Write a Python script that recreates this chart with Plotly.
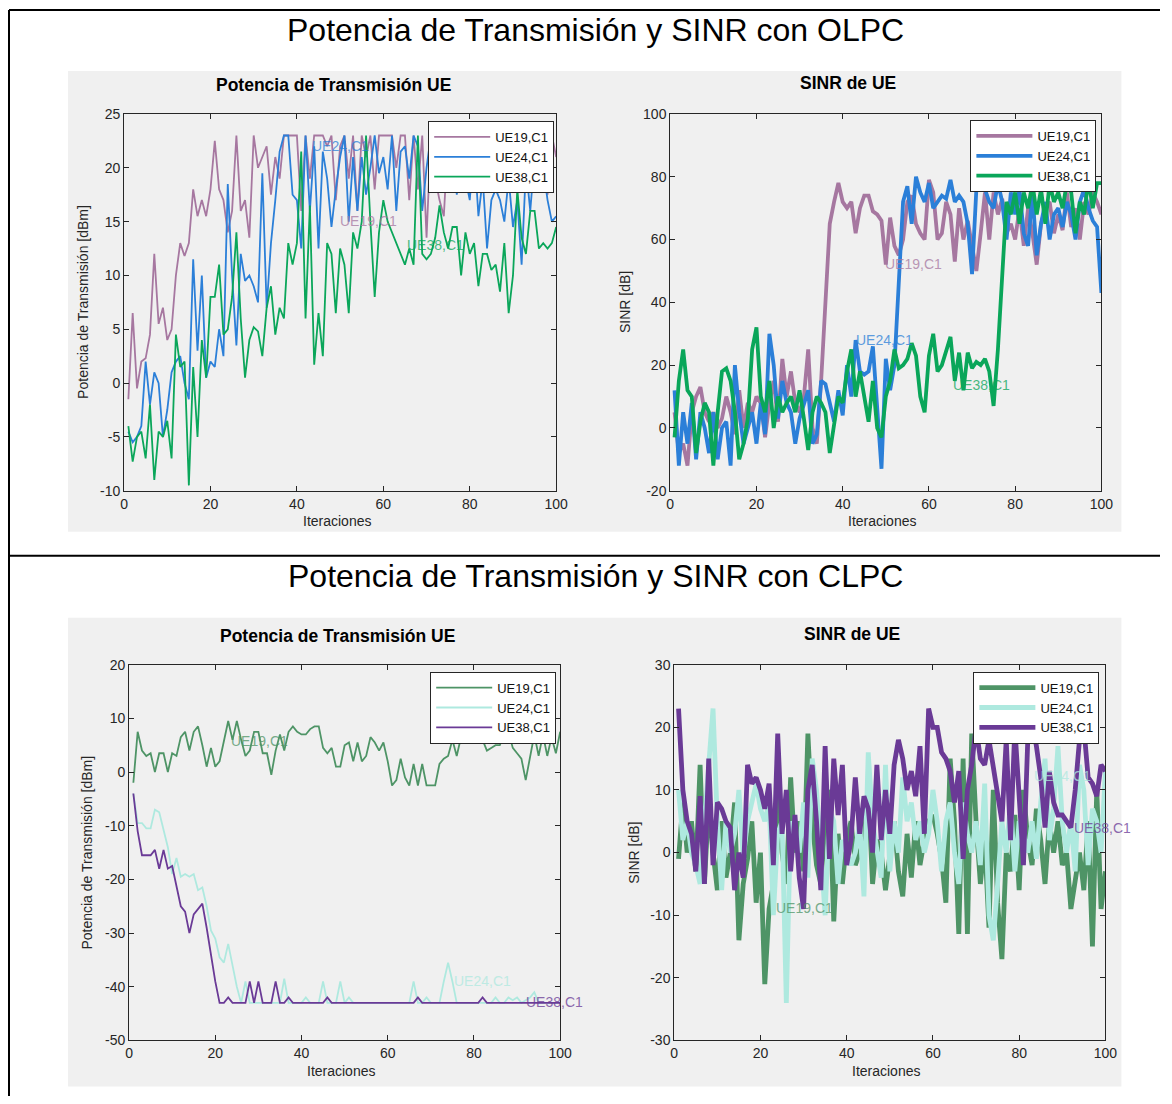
import plotly.graph_objects as go

W, H = 1172, 1104
# the photographed page comes out slightly shrunk and shifted; positions below are
# given in final picture pixels and mapped back to figure space with these factors
SC, AX, AY = 0.986, 3.0, 8.0

iters = list(range(1, 101))
names = ["UE19,C1", "UE24,C1", "UE38,C1"]

# ---------- OLPC: transmit power [dBm] ----------
olpc_pot_ue19 = [-1.5, 6.5, -0.5, 2, 2.3, 4.5, 12, 5.5, 7, 4, 5, 10, 13, 11.8, 13, 18, 15.5, 17, 15.5, 18,
                 22.5, 18, 17, 14, 16, 23, 16, 17, 13.5, 23, 20, 21, 22, 17.5, 21, 19, 23, 23, 23, 23,
                 16, 23, 19, 23, 23, 23, 22, 23, 17, 22, 23, 19, 23, 16, 23, 21, 23, 18, 23, 23,
                 23, 23, 20, 23, 23, 17, 23, 18, 23, 13.5, 23, 19, 17, 15.5, 23, 21, 23, 20, 23, 23,
                 19, 23, 18, 23, 22, 23, 20, 23, 19, 23, 23, 18, 23, 22, 23, 19, 23, 17.5, 23, 21]
olpc_pot_ue24 = [-4.5, -5.5, -5, -4, 2, -2, 1, 0, -5, -2.5, 1, 2, 2.5, 0, -1.5, 11.5, 3, 10, 0.5, 2,
                 1.5, 5, 2.5, 18.5, 10, 3.5, 12, 9.5, 10, 9, 7.5, 19.5, 7, 13, 17, 21.5, 23, 23, 17.5, 17,
                 12.5, 23, 16, 22, 12.5, 21.5, 19, 14.5, 18, 21, 23, 15, 21, 16, 21, 17.5, 20, 23, 19.5, 21,
                 18, 23, 16, 21.5, 22, 19, 23, 22, 16, 20, 23, 21, 18, 20, 18, 22, 17.5, 21, 19, 17,
                 22, 15.5, 19, 12.5, 17, 18, 17, 15, 19, 14.5, 17, 11, 20, 16, 21, 18, 20, 17, 15, 15.5]
olpc_pot_ue38 = [-4, -7.3, -5, -4.5, -7, -2, -9, -4.5, -5, -3.5, -7, 4.5, 1.5, 2, -9.5, 1.5, -5, 4, 0.5, 8,
                 8, 11, 4.5, 5, 8, 14, 6, 0.5, 4, 5.2, 4.8, 2.5, 7, 9, 4.5, 7, 6, 13, 11, 13,
                 21.5, 6, 16.5, 1.7, 6.5, 2.5, 13, 12, 6.5, 12.5, 11, 6.5, 14, 12.5, 15, 23, 15, 8, 14, 17,
                 15, 14, 13, 12, 11, 12.5, 11, 23, 12, 11.5, 12, 13.5, 16.5, 14, 12.5, 14.5, 14.5, 10, 14, 12,
                 13, 9, 12, 12, 10.5, 11, 8.5, 13, 6.5, 10, 18, 13.5, 12, 16, 16, 12.5, 13, 12.5, 13, 14.5]

# ---------- OLPC: SINR [dB] ----------
olpc_sinr_ue19 = [5, -8, -5, -12, 5, 10, 13, 5, 2, 5, 0, 3, 10, 5, -2, 12, 0, 8, 5, 10,
                  8, -3, 8, 15, 2, 22, 10, 18, 8, 5, 10, 25, 0, -5, 15, 40, 65, 72, 78, 72,
                  70, 72, 62, 70, 74, 74, 69, 68, 66, 52, 67, 58, 55, 60, 72, 74, 65, 62, 60, 79,
                  75, 60, 62, 72, 68, 53, 70, 60, 66, 58, 50, 62, 75, 60, 75, 68, 73, 62, 65, 60,
                  70, 58, 70, 62, 52, 65, 70, 72, 62, 68, 63, 75, 64, 70, 60, 72, 68, 75, 72, 68]
olpc_sinr_ue24 = [12, -12, 5, -5, 8, -10, 5, 0, -8, 5, -10, 0, 2, -12, 20, 5, -5, 0, 5, -5,
                  8, -2, 30, 20, 3, 15, 8, 5, -5, 3, 8, 12, -5, -2, 15, 14, 8, 2, 12, 4,
                  20, 10, 28, 18, 17, 18, 26, 5, -13, 22, 12, 20, 48, 72, 77, 65, 80, 75, 72, 78,
                  70, 72, 74, 73, 79, 72, 74, 72, 65, 49, 76, 80, 76, 72, 70, 78, 72, 60, 75, 68,
                  76, 62, 58, 75, 55, 65, 72, 60, 68, 70, 64, 72, 68, 60, 72, 76, 70, 66, 64, 43]
olpc_sinr_ue38 = [-3, 15, 25, 12, 10, -8, 2, 8, 5, -12, 5, 18, 19, 15, 5, -10, -5, 3, 25, 32,
                  10, 5, 15, 0, 10, 5, 8, 10, 5, 12, 3, -7, 5, 10, 8, 5, -8, 2, 10, 8,
                  18, 25, 10, 18, 10, 2, 15, 0, -3, 10, 15, 25, 19, 20, 22, 27, 23, 10, 5, 23,
                  30, 18, 20, 25, 29, 15, 24, 12, 24, 19, 21, 20, 22, 18, 7, 25, 50, 72, 68, 75,
                  65, 75, 70, 78, 68, 76, 65, 78, 72, 75, 70, 78, 75, 62, 72, 68, 79, 70, 78, 78]

# ---------- CLPC: transmit power [dBm] ----------
clpc_pot_ue19 = [-2, 7.5, 4, 3, 3.5, 0, 3.5, 3.5, 0, 3.5, 3, 6.5, 7.5, 4, 7.5, 8.5, 5, 1, 4.5, 1,
                 2, 5.5, 9.5, 6, 9.5, 6, 3, 4, 7.5, 7.5, 3.5, 3.5, -0.5, 4, 7, 4, 7.5, 8.5, 7.5, 7,
                 7, 8, 8.5, 8.5, 4.5, 3.5, 4.5, 1, 1, 5, 5.5, 2, 5.5, 2, 3, 6.5, 5.5, 4, 5.5, 2,
                 -2.5, -1.5, 2.5, -1, -2.5, 1.5, -2.5, 1.5, -2.5, -2.5, -2.5, 1.5, 2.5, 3, 6, 3, 6.5, 7, 7, 6,
                 7.5, 6, 4, 4.5, 5, 5, 7, 7.5, 4.5, 3.5, 2.5, -1.5, 3, 7, 3, 7, 3, 6.5, 3.5, 7.5]
clpc_pot_ue24 = [-4, -9.5, -9.5, -10.5, -10.5, -7, -7.5, -11, -14, -19, -16, -19.5, -19, -19.5, -19, -22, -21.5, -25, -29.5, -31,
                 -34.5, -35.5, -32, -36, -40, -43, -39, -43, -43, -43, -43, -43, -43, -43, -43, -38.5, -43, -43, -43, -43,
                 -42, -43, -43, -43, -39, -43, -43, -43, -39, -43, -42, -43, -43, -43, -43, -43, -43, -43, -43, -43,
                 -43, -43, -43, -43, -43, -39, -43, -43, -42, -43, -43, -43, -39, -35.5, -39, -43, -43, -43, -43, -43,
                 -43, -43, -43, -43, -42, -43, -43, -42, -42.5, -42, -43, -42.5, -42, -41, -43, -43, -43, -43, -43, -43]
clpc_pot_ue38 = [-4, -11, -15.5, -15.5, -15.5, -14.5, -18, -14.5, -18, -17.5, -21, -25, -26, -30, -26.5, -25.5, -24.5, -29, -34, -39,
                 -43, -43, -42, -43, -43, -43, -43, -39, -43, -39, -43, -43, -43, -39, -43, -43, -42, -43, -43, -43,
                 -43, -43, -43, -43, -43, -42, -43, -43, -43, -43, -43, -43, -43, -43, -43, -43, -43, -43, -43, -43,
                 -43, -43, -43, -43, -43, -43, -42, -43, -43, -43, -43, -43, -43, -43, -43, -43, -43, -43, -43, -43,
                 -43, -42, -43, -43, -43, -43, -43, -43, -43, -43, -43, -43, -43, -43, -43, -43, -43, -43, -43, -43]

# ---------- CLPC: SINR [dB] ----------
clpc_sinr_ue19 = [-1, 8, 0, 5, -3, 14, -5, 8, 0, -6, 5, -4, 0, 8, -14, -5, -1, 5, -8, 0,
                  -21, -9, -5, 10, 0, -5, 12, 0, 5, -3, 19, 5, -2, -5, 5, 10, -11, 3, -5, 2,
                  5, -2, 0, 2, 10, -5, 2, 0, -6, 0, 5, -3, -7, 3, -4, 5, -2, 2, 5, 6,
                  3, -1, -8, 15, 5, -13, 15, -13, 19, 5, -5, 2, -12, 10, -8, -17, 0, -3, 6, -6,
                  10, 2, -2, 7, 2, -5, 5, 0, 5, -2, 0, -9, -5, 0, -6, 5, -15, 10, -9, -3]
clpc_sinr_ue24 = [10, 2, 5, 0, -2, -5, 5, 15, 23, 5, -6, 5, 0, 3, 10, -1, 5, 8, 11, 7,
                  5, 8, -10, 3, 5, -24, 5, 2, 0, 8, -4, 15, 10, 0, -10, 7, 5, -5, 2, 0,
                  -2, 0, 5, -7, 16, 5, 0, -4, 14, -3, 5, 0, 12, 5, 8, 2, 5, 0, 3, 10,
                  5, -3, 5, 8, 0, -5, 8, 3, 0, 5, -2, 11, -10, -14, -5, 5, 0, 8, -3, 5,
                  3, 0, 5, -1, 8, 15, 2, 7, 17, 5, 0, 5, -3, 14, 10, -2, 7, 5, 0, 13]
clpc_sinr_ue38 = [23, 10, 5, 3, -3, 9, -5, 15, -2, 8, 7, 5, 4, -6, 0, -4, 14, 11, 12, 10,
                  7, 11, -2, 19, 3, 10, -3, 6, -4, -9, 10, 14, 5, -6, 17, -1, 15, 6, 14, -2,
                  2, 12, 3, 9, 7, 0, 14, 2, 10, 3, 14, 18, 15, 10, 13, 9, 17, 3, 23, 20,
                  20, 16, 15, 13, 8, 13, -1, 10, 14, 20, 15, 14, 18, 14, 10, 5, 18, 2, 20, 9,
                  -2, 18, 21, 17, 12, 4, 13, 8, 6, 6, 5, 4, 10, 18, 20, 12, 11, 9, 14, 13]

# tick values of each panel
x_ticks = [0, 20, 40, 60, 80, 100]
y_ticks_olpc_pot = [-10, -5, 0, 5, 10, 15, 20, 25]
y_ticks_olpc_sinr = [-20, 0, 20, 40, 60, 80, 100]
y_ticks_clpc_pot = [-50, -40, -30, -20, -10, 0, 10, 20]
y_ticks_clpc_sinr = [-30, -20, -10, 0, 10, 20, 30]

olpc_colors = ["#a677a0", "#2b7fd8", "#0aa65a"]
clpc_colors = ["#4e9466", "#aee9df", "#6a3a96"]

FONT = "Liberation Sans, Arial, sans-serif"


def px(x):
    # picture pixel -> paper fraction
    return (x - AX) / SC / W


def py(y):
    return 1 - (y - AY) / SC / H


fig = go.Figure()

panels = [
    ("", (123, 555), (114, 491), y_ticks_olpc_pot,
     [olpc_pot_ue19, olpc_pot_ue24, olpc_pot_ue38], olpc_colors, 1.8, "legend", (553, 121),
     [(49.5, 15.1), (43, 22), (65, 12.8)]),
    ("2", (669, 1100), (114, 491), y_ticks_olpc_sinr,
     [olpc_sinr_ue19, olpc_sinr_ue24, olpc_sinr_ue38], olpc_colors, 3.8, "legend2", (1095, 120),
     [(49.4, 52.2), (42.7, 28), (65.2, 13.6)]),
    ("3", (128, 559), (665, 1041), y_ticks_clpc_pot,
     [clpc_pot_ue19, clpc_pot_ue24, clpc_pot_ue38], clpc_colors, 1.8, "legend3", (555, 672),
     [(23.2, 5.7), (74.9, -39), (91.7, -42.9)]),
    ("4", (673, 1104), (665, 1041), y_ticks_clpc_sinr,
     [clpc_sinr_ue19, clpc_sinr_ue24, clpc_sinr_ue38], clpc_colors, 4.8, "legend4", (1098, 672),
     [(23.2, -8.8), (83, 12.2), (92.2, 4)]),
]

annotations = []
layout_axes = {}
legends = {}
for suf, xd, yd, yt, series, cols, lw, lg, lpos, labs in panels:
    for name, ys, c in zip(names, series, cols):
        fig.add_trace(go.Scatter(x=iters, y=ys, mode="lines", name=name,
                                 line=dict(color=c, width=lw),
                                 xaxis="x" + suf, yaxis="y" + suf, legend=lg))
    for name, (lx, ly), c in zip(names, labs, cols):
        annotations.append(dict(x=lx, y=ly, xref="x" + suf, yref="y" + suf, text=name,
                                showarrow=False, xanchor="left", yanchor="middle",
                                opacity=0.75, font=dict(family=FONT, size=14, color=c)))
    common = dict(showline=True, linecolor="#262626", linewidth=1, mirror="ticks",
                  ticks="inside", ticklen=5, tickcolor="#262626", showgrid=False, zeroline=False,
                  tickfont=dict(family=FONT, size=14, color="#262626"), tickmode="array")
    layout_axes["xaxis" + suf] = dict(domain=[px(xd[0]), px(xd[1])], range=[0, 100],
                                       tickvals=x_ticks, ticktext=[str(v) for v in x_ticks],
                                       anchor="y" + suf, **common)
    layout_axes["yaxis" + suf] = dict(domain=[py(yd[1]), py(yd[0])], range=[yt[0], yt[-1]],
                                       tickvals=yt, ticktext=[str(v) for v in yt],
                                       anchor="x" + suf, **common)
    legends[lg] = dict(x=px(lpos[0]), y=py(lpos[1]), xanchor="right", yanchor="top",
                       bgcolor="white", bordercolor="#262626", borderwidth=1,
                       font=dict(family=FONT, size=13, color="#111111"),
                       tracegroupgap=0, itemwidth=56)

shapes = [
    dict(type="rect", xref="paper", yref="paper", x0=px(67), x1=px(1120), y0=py(532), y1=py(71),
         fillcolor="#f0f0f0", line=dict(width=0), layer="below"),
    dict(type="rect", xref="paper", yref="paper", x0=px(67), x1=px(1120), y0=py(1087), y1=py(618),
         fillcolor="#f0f0f0", line=dict(width=0), layer="below"),
    dict(type="line", xref="paper", yref="paper", x0=px(8), x1=1, y0=py(10), y1=py(10),
         line=dict(color="black", width=2)),
    dict(type="line", xref="paper", yref="paper", x0=px(8), x1=1, y0=py(556), y1=py(556),
         line=dict(color="black", width=2)),
    dict(type="line", xref="paper", yref="paper", x0=px(8), x1=px(8), y0=py(10), y1=0,
         line=dict(color="black", width=2)),
]


def txt(x, y, s, size, bold=False, angle=0, color="black"):
    return dict(x=px(x), y=py(y), xref="paper", yref="paper", text=("<b>%s</b>" % s) if bold else s,
                showarrow=False, xanchor="center", yanchor="middle", textangle=angle,
                font=dict(family=FONT, size=size, color=color))


annotations += [
    txt(594, 30, "Potencia de Transmisión y SINR con OLPC", 32),
    txt(594, 576, "Potencia de Transmisión y SINR con CLPC", 32),
    txt(332, 85, "Potencia de Transmisión UE", 17.5, bold=True),
    txt(847, 83, "SINR de UE", 17.5, bold=True),
    txt(336, 636, "Potencia de Transmisión UE", 17.5, bold=True),
    txt(851, 634, "SINR de UE", 17.5, bold=True),
    txt(336, 521, "Iteraciones", 14, color="#262626"),
    txt(881, 521, "Iteraciones", 14, color="#262626"),
    txt(340, 1072, "Iteraciones", 14, color="#262626"),
    txt(885, 1072, "Iteraciones", 14, color="#262626"),
    txt(82, 302, "Potencia de Transmisión [dBm]", 14, angle=-90, color="#262626"),
    txt(624, 302, "SINR [dB]", 14, angle=-90, color="#262626"),
    txt(86, 853, "Potencia de Transmisión [dBm]", 14, angle=-90, color="#262626"),
    txt(632, 853, "SINR [dB]", 14, angle=-90, color="#262626"),
]

fig.update_layout(width=W, height=H, margin=dict(l=0, r=0, t=0, b=0),
                  paper_bgcolor="white", plot_bgcolor="white", showlegend=True,
                  shapes=shapes, annotations=annotations, **layout_axes, **legends)

fig.write_html("out.html")
